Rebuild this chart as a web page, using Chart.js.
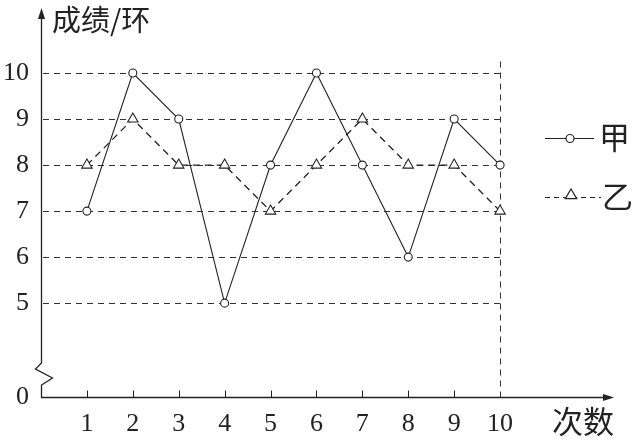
<!DOCTYPE html>
<html>
<head>
<meta charset="utf-8">
<script src="https://cdn.jsdelivr.net/npm/chart.js@4"></script>
<style>
  html, body { margin: 0; padding: 0; background: #fff; }
  #wrap { width: 634px; height: 439px; }
</style>
</head>
<body>
<div id="wrap"><canvas id="chart"></canvas></div>
<script>
// data
const shots = [1, 2, 3, 4, 5, 6, 7, 8, 9, 10];
const jia = [7, 10, 9, 5, 8, 10, 8, 6, 9, 8];
const yi = [8, 9, 8, 8, 7, 8, 9, 8, 8, 7];
const gridValues = [5, 6, 7, 8, 9, 10];
const yTickValues = [2.96, 5, 6, 7, 8, 9, 10];
const yTickLabels = ['0', '5', '6', '7', '8', '9', '10'];
const yTitle = '成绩/环';
const xTitle = '次数';
const names = ['甲', '乙'];

const INK = '#222';
const NUM_FONT = { family: '"Liberation Serif", "DejaVu Serif", serif', size: 26 };
const CJK = '"Noto Sans CJK SC", sans-serif';
const Y_MIN = 2.96, Y_MAX = 11.37, X_MAX = 12.46;

const $ = (id) => document.getElementById(id);

function triangle(ctx, x, y, r) {
    ctx.beginPath();
    ctx.moveTo(x, y - r);
    ctx.lineTo(x + r * 0.95, y + r * 0.6);
    ctx.lineTo(x - r * 0.95, y + r * 0.6);
    ctx.closePath();
    ctx.fillStyle = '#fff';
    ctx.fill();
    ctx.stroke();
}

const frame = {
    id: 'frame',
    beforeDatasetsDraw(chart) {
        const { ctx, chartArea: a, scales: { x, y } } = chart;
        const x10 = x.getPixelForValue(shots[shots.length - 1]);
        ctx.save();
        ctx.strokeStyle = '#333';
        ctx.lineWidth = 1;
        ctx.setLineDash([6, 5]);
        gridValues.forEach(v => {
            const py = Math.round(y.getPixelForValue(v)) + 0.5;
            ctx.beginPath();
            ctx.moveTo(a.left + 2, py);
            ctx.lineTo(x10, py);
            ctx.stroke();
        });
        ctx.beginPath();
        ctx.moveTo(Math.round(x10) + 0.5, y.getPixelForValue(10.25));
        ctx.lineTo(Math.round(x10) + 0.5, a.bottom);
        ctx.stroke();
        ctx.setLineDash([]);

        // axes
        ctx.strokeStyle = INK;
        ctx.fillStyle = INK;
        ctx.lineWidth = 1.3;
        const ox = a.left + 0.5, oy = a.bottom + 0.5;
        ctx.beginPath();
        ctx.moveTo(ox, a.top + 4);
        ctx.lineTo(ox, 363);
        ctx.lineTo(ox - 6, 369);
        ctx.lineTo(ox + 11, 378);
        ctx.lineTo(ox, 385);
        ctx.lineTo(ox, oy);
        ctx.lineTo(a.right - 4, oy);
        ctx.stroke();
        // arrow heads
        ctx.beginPath();
        ctx.moveTo(ox, a.top - 2);
        ctx.lineTo(ox - 3.5, a.top + 9);
        ctx.lineTo(ox + 3.5, a.top + 9);
        ctx.closePath();
        ctx.fill();
        ctx.beginPath();
        ctx.moveTo(a.right + 1, oy);
        ctx.lineTo(a.right - 10, oy - 3.5);
        ctx.lineTo(a.right - 10, oy + 3.5);
        ctx.closePath();
        ctx.fill();
        // tick marks
        ctx.lineWidth = 1;
        shots.slice(0, -1).forEach(v => {
            const px = Math.round(x.getPixelForValue(v)) + 0.5;
            ctx.beginPath();
            ctx.moveTo(px, oy);
            ctx.lineTo(px, oy - 7);
            ctx.stroke();
        });

        // axis titles
        ctx.textBaseline = 'middle';
        ctx.textAlign = 'left';
        ctx.font = '29px ' + CJK;
        ctx.fillText(yTitle, 52, 20);
        ctx.font = '31px ' + CJK;
        ctx.fillText(xTitle, 552, 421);

        // legend
        ctx.lineWidth = 1.2;
        ctx.beginPath();
        ctx.moveTo(545, 138.5);
        ctx.lineTo(594, 138.5);
        ctx.stroke();
        ctx.beginPath();
        ctx.arc(570, 138.5, 4, 0, Math.PI * 2);
        ctx.fillStyle = '#fff';
        ctx.fill();
        ctx.stroke();
        ctx.setLineDash([5, 4]);
        ctx.beginPath();
        ctx.moveTo(545, 197.5);
        ctx.lineTo(601, 197.5);
        ctx.stroke();
        ctx.setLineDash([]);
        triangle(ctx, 571, 195, 6);
        ctx.fillStyle = INK;
        ctx.font = '31px ' + CJK;
        ctx.fillText(names[0], 599, 137);
        ctx.fillText(names[1], 602, 196);
        ctx.restore();
    }
};

const toPoints = (vals) => vals.map((v, i) => ({ x: shots[i], y: v }));

new Chart($('chart'), {
    type: 'line',
    data: {
        datasets: [
            {
                label: names[0], data: toPoints(jia),
                borderColor: INK, borderWidth: 1.1,
                pointStyle: 'circle', pointRadius: 4, pointBorderWidth: 1.1,
                pointBackgroundColor: '#fff', pointBorderColor: INK,
                tension: 0, clip: false
            },
            {
                label: names[1], data: toPoints(yi),
                borderColor: INK, borderWidth: 1.3, borderDash: [7, 5],
                pointStyle: 'triangle', pointRadius: 6, pointBorderWidth: 1.1,
                pointBackgroundColor: '#fff', pointBorderColor: INK,
                tension: 0, clip: false
            }
        ]
    },
    options: {
        responsive: true,
        maintainAspectRatio: false,
        animation: false,
        layout: { padding: { top: 10, right: 21, left: 0, bottom: 0 } },
        plugins: { legend: { display: false }, tooltip: { enabled: false } },
        scales: {
            x: {
                type: 'linear', min: 0, max: X_MAX,
                grid: { display: false }, border: { display: false },
                afterBuildTicks: s => { s.ticks = shots.map(v => ({ value: v })); },
                afterFit: s => { s.height = 42; s.paddingLeft = 0; s.paddingRight = 0; },
                ticks: { font: NUM_FONT, color: INK, padding: 4, autoSkip: false, maxRotation: 0 }
            },
            y: {
                min: Y_MIN, max: Y_MAX,
                grid: { display: false }, border: { display: false },
                afterBuildTicks: s => { s.ticks = yTickValues.map(v => ({ value: v })); },
                afterFit: s => { s.width = 41; s.paddingTop = 0; s.paddingBottom = 0; },
                ticks: {
                    font: NUM_FONT, color: INK, padding: 4,
                    callback: (v) => yTickLabels[yTickValues.indexOf(v)]
                }
            }
        }
    },
    plugins: [frame]
});
</script>
</body>
</html>
